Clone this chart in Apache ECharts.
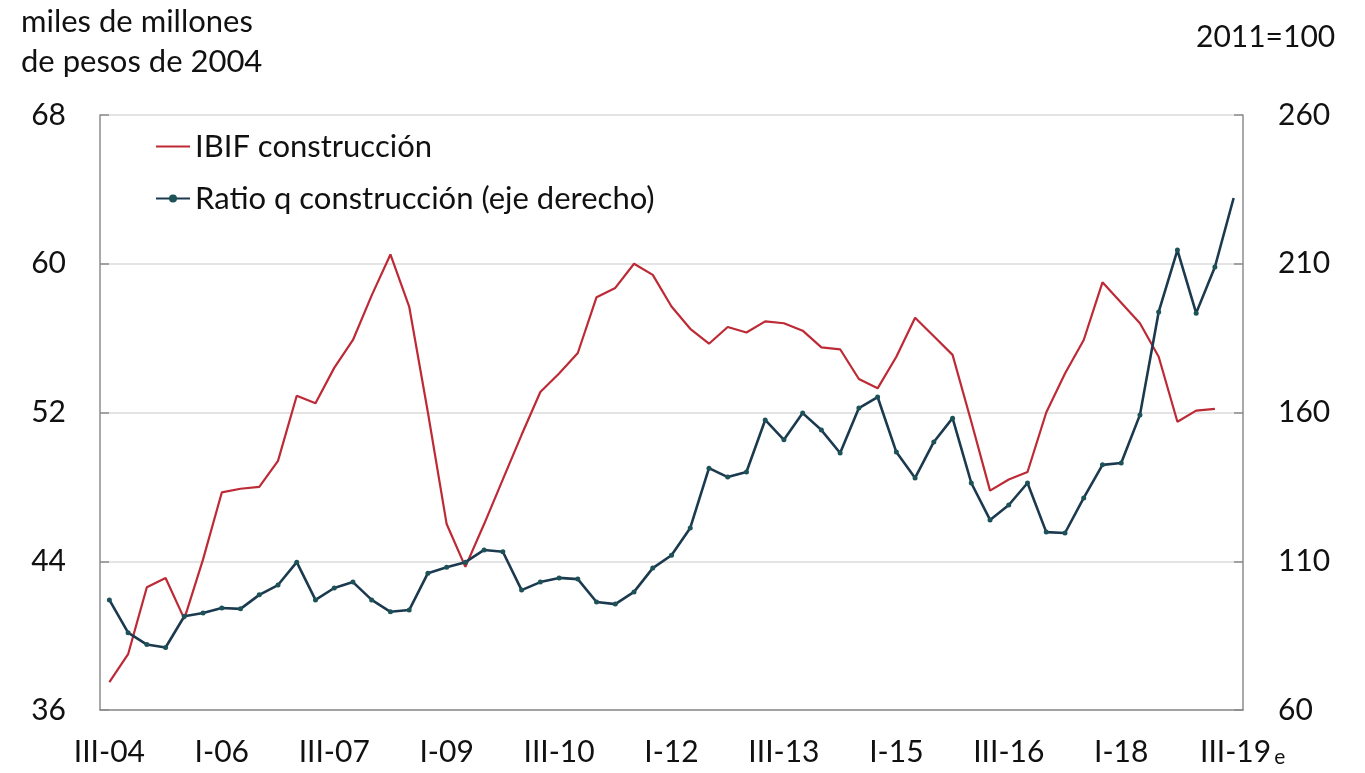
<!DOCTYPE html>
<html>
<head>
<meta charset="utf-8">
<title>IBIF construcción y ratio q</title>
<script src="https://cdn.jsdelivr.net/npm/echarts@6/dist/echarts.min.js"></script>
<style>
  html, body { margin: 0; padding: 0; background: #fff; }
  #chart { width: 1365px; height: 773px; }
</style>
</head>
<body>
<div id="chart"></div>
<script>
var trimestres = [
	'III-04', 'IV-04',
	'I-05', 'II-05', 'III-05', 'IV-05',
	'I-06', 'II-06', 'III-06', 'IV-06',
	'I-07', 'II-07', 'III-07', 'IV-07',
	'I-08', 'II-08', 'III-08', 'IV-08',
	'I-09', 'II-09', 'III-09', 'IV-09',
	'I-10', 'II-10', 'III-10', 'IV-10',
	'I-11', 'II-11', 'III-11', 'IV-11',
	'I-12', 'II-12', 'III-12', 'IV-12',
	'I-13', 'II-13', 'III-13', 'IV-13',
	'I-14', 'II-14', 'III-14', 'IV-14',
	'I-15', 'II-15', 'III-15', 'IV-15',
	'I-16', 'II-16', 'III-16', 'IV-16',
	'I-17', 'II-17', 'III-17', 'IV-17',
	'I-18', 'II-18', 'III-18', 'IV-18',
	'I-19', 'II-19', 'III-19'
];

// IBIF construcción, miles de millones de pesos de 2004 (eje izquierdo)
var ibif = [
	37.5, 39.0, 42.6, 43.1, 40.9, 44.1, 47.7, 47.9, 48.0, 49.4,
	52.9, 52.5, 54.4, 55.9, 58.3, 60.5, 57.7, 52.0, 46.0, 43.7,
	46.0, 48.4, 50.8, 53.1, 54.1, 55.2, 58.2, 58.7, 60.0, 59.4,
	57.7, 56.5, 55.7, 56.6, 56.3, 56.9, 56.8, 56.4, 55.5, 55.4,
	53.8, 53.3, 55.0, 57.1, 56.1, 55.1, 51.5, 47.8, 48.4, 48.8,
	52.0, 54.1, 55.9, 59.0, 57.9, 56.8, 55.0, 51.5, 52.1, 52.2,
	null
];

// Ratio q construcción, 2011=100 (eje derecho); el último es estimado
var ratioQ = [
	97.0, 86.0, 82.0, 81.0, 91.5, 92.6, 94.3, 94.0, 98.7, 102.0,
	109.7, 97.0, 101.0, 103.0, 97.0, 93.0, 93.6, 106.0, 108.0, 109.7,
	113.8, 113.2, 100.3, 103.0, 104.4, 104.0, 96.3, 95.6, 99.7, 107.7,
	112.0, 121.2, 141.3, 138.3, 140.0, 157.5, 150.8, 159.8, 154.1, 146.4,
	161.5, 165.2, 146.7, 138.0, 150.1, 158.1, 136.3, 123.9, 128.9, 136.3,
	119.8, 119.5, 131.3, 142.4, 143.0, 159.2, 193.8, 214.6, 193.4, 208.9,
	232.1
];

var fuente = 'Lato, "Open Sans", sans-serif';
var texto = '#111';
var ejeColor = '#8c8c8c';

function datosRatio() {
	var out = [];
	for (var i = 0; i < ratioQ.length; i++) {
		if (i == ratioQ.length - 1) {
			out.push({ value: ratioQ[i], symbol: 'none' });
		} else {
			out.push(ratioQ[i]);
		}
	}
	return out;
}

function dibujar() {
	var myChart = echarts.init(document.getElementById('chart'));
	var option = {
		backgroundColor: '#fff',
		animation: false,
		textStyle: { fontFamily: fuente, color: texto },
		title: [{
			text: 'miles de millones\nde pesos de 2004',
			left: 16,
			top: -3,
			textStyle: { fontFamily: fuente, fontSize: 31, fontWeight: 'normal', color: texto, lineHeight: 40 }
		}, {
			text: '2011=100',
			left: 1191,
			top: 17,
			textStyle: { fontFamily: fuente, fontSize: 30, fontWeight: 'normal', color: texto }
		}],
		legend: {
			orient: 'vertical',
			left: 150,
			top: 126,
			itemWidth: 34,
			itemHeight: 10,
			itemGap: 21,
			textStyle: { fontFamily: fuente, fontSize: 31, color: texto },
			data: [
				{ name: 'IBIF construcción', itemStyle: { opacity: 0 } },
				{ name: 'Ratio q construcción (eje derecho)' }
			]
		},
		grid: { left: 100, right: 122, top: 115, bottom: 63 },
		xAxis: {
			type: 'category',
			data: trimestres,
			boundaryGap: true,
			axisLine: { lineStyle: { color: ejeColor, width: 1.5 } },
			axisTick: { inside: true, length: 9, interval: 5, lineStyle: { color: ejeColor, width: 1.5 } },
			axisLabel: {
				interval: 5,
				margin: 27,
				fontSize: 30,
				color: texto,
				fontFamily: fuente,
				formatter: function (v, idx) {
					if (idx == trimestres.length - 1) return '{a|' + v + '}{e|e}';
					return v;
				},
				rich: {
					a: { fontSize: 30, fontFamily: fuente, color: texto, padding: [0, 0, 0, 18] },
					e: { fontSize: 21, fontFamily: fuente, color: texto, padding: [10, 0, 0, 3] }
				}
			},
			splitLine: { show: false }
		},
		yAxis: [{
			type: 'value',
			min: 36,
			max: 68,
			interval: 8,
			axisLine: { show: true, lineStyle: { color: ejeColor, width: 1.5 } },
			axisTick: { show: true, inside: true, length: 9, lineStyle: { color: ejeColor, width: 1.5 } },
			axisLabel: { margin: 34, fontSize: 30, color: texto, fontFamily: fuente },
			splitLine: { show: true, lineStyle: { color: '#e4e4e4', width: 2 } }
		}, {
			type: 'value',
			min: 60,
			max: 260,
			interval: 50,
			axisLine: { show: true, lineStyle: { color: ejeColor, width: 1.5 } },
			axisTick: { show: true, inside: true, length: 9, lineStyle: { color: ejeColor, width: 1.5 } },
			axisLabel: { margin: 35, fontSize: 30, color: texto, fontFamily: fuente },
			splitLine: { show: false }
		}],
		series: [{
			name: 'IBIF construcción',
			type: 'line',
			yAxisIndex: 0,
			data: ibif,
			symbol: 'none',
			lineStyle: { color: '#bd2a35', width: 2.2 },
			itemStyle: { color: '#bd2a35' }
		}, {
			name: 'Ratio q construcción (eje derecho)',
			type: 'line',
			yAxisIndex: 1,
			data: datosRatio(),
			symbol: 'circle',
			symbolSize: 5,
			showAllSymbol: true,
			lineStyle: { color: '#1c3a4f', width: 2.6 },
			itemStyle: { color: '#1d5358', borderWidth: 0 }
		}]
	};
	myChart.setOption(option);
}

dibujar();
</script>
</body>
</html>
